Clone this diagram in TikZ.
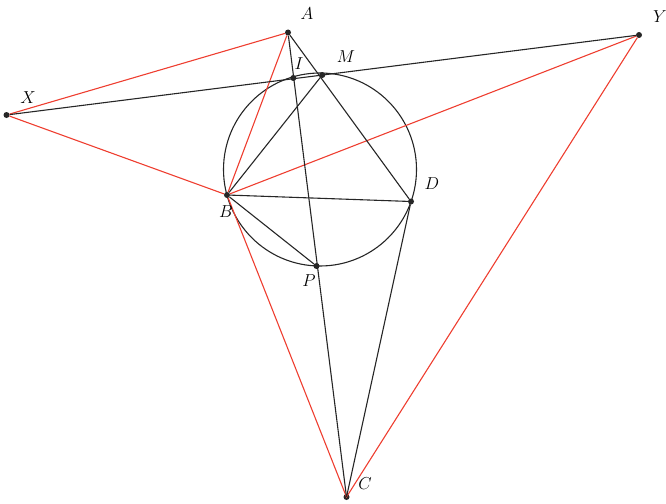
\documentclass[tikz,border=0pt]{standalone}
\definecolor{rline}{RGB}{238,62,48}
\begin{document}
\begin{tikzpicture}[x=1pt,y=-1pt,
  blk/.style={draw=black!85,line width=1.1pt},
  red/.style={draw=rline,line width=1.1pt},
  pt/.style={circle,fill=black!85,inner sep=0pt,minimum size=6pt},
  lab/.style={font=\fontsize{19}{22}\selectfont}]
\useasboundingbox (0,0) rectangle (666,503);
\node[pt] (A) at (288,32.5) {};
\node[pt] (Y) at (639,35) {};
\node[pt] (X) at (6.5,115) {};
\node[pt] (I) at (293.3,78) {};
\node[pt] (M) at (322.3,75) {};
\node[pt] (B) at (227,195) {};
\node[pt] (D) at (411,201.5) {};
\node[pt] (P) at (316.5,266) {};
\coordinate (C) at (346.5,497);
\node[pt] (Cd) at (C) {};
\coordinate (O) at (320,169.5);
% circle
\draw[blk] (O) circle (96.5);
% red lines
\draw[red] (X) -- (A) -- (B) -- (X);
\draw[red] (B) -- (Y) -- (C) -- (B);
% black lines
\draw[blk] (X) -- (Y);
\draw[blk] (A) -- (C);
\draw[blk] (A) -- (D) -- (C);
\draw[blk] (B) -- (M);
\draw[blk] (B) -- (D);
\draw[blk] (B) -- (P);
% labels
\node[lab] at (307,14) {$A$};
\node[lab] at (660,17) {$Y$};
\node[lab] at (28,98) {$X$};
\node[lab] at (299,64) {$I$};
\node[lab] at (346,57) {$M$};
\node[lab] at (226,212) {$B$};
\node[lab] at (432,184) {$D$};
\node[lab] at (309,281) {$P$};
\node[lab] at (365,484) {$C$};
\end{tikzpicture}
\end{document}
